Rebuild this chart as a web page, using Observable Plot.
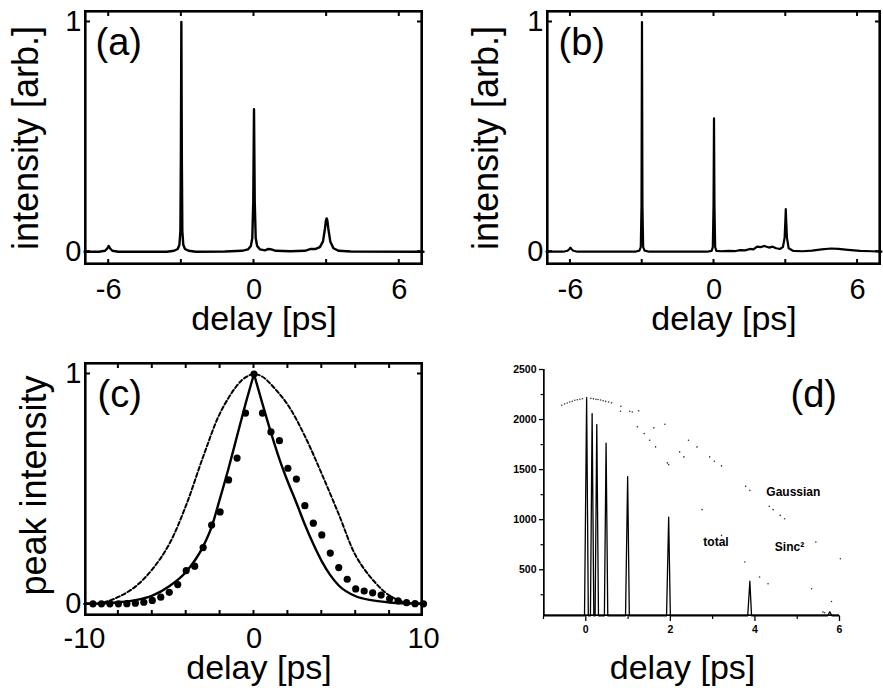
<!DOCTYPE html>
<html><head><meta charset="utf-8">
<script src="https://cdn.jsdelivr.net/npm/d3@7"></script>
<script src="https://cdn.jsdelivr.net/npm/@observablehq/plot@0.6"></script>
<style>
body{margin:0;background:#fff;}
#fig{position:relative;width:883px;height:688px;overflow:hidden;background:#fff;}
</style></head><body><div id="fig"></div>
<script>
// ---------- data ----------
// (a) measured autocorrelation trace: [delay ps, intensity]
const aTicksX = [-6, 0, 6];
const aTicksY = [0, 1];
const aMinorX = [-6, -3, 0, 3, 6];
const aTrace = [
[-7.0,0.0],[-6.4,0.0],[-6.15,0.004],[-6.06,0.014],[-6.0,0.025],[-5.94,0.014],[-5.85,0.004],[-5.6,0.0],
[-3.6,0.0],[-3.3,0.004],[-3.15,0.012],[-3.08,0.03],[-3.04,0.09],[-3.02,0.4],[-3.0,1.0],[-2.98,0.4],[-2.96,0.09],[-2.92,0.03],[-2.85,0.012],[-2.7,0.004],[-2.4,0.0],
[-1.2,0.001],[-0.5,0.004],[-0.25,0.01],[-0.13,0.025],[-0.07,0.06],[-0.03,0.22],[0.0,0.62],[0.03,0.22],[0.07,0.06],[0.13,0.025],[0.25,0.01],[0.45,0.006],[0.6,0.012],[0.72,0.01],[0.9,0.004],[1.5,0.002],
[2.1,0.004],[2.35,0.012],[2.55,0.012],[2.72,0.02],[2.85,0.045],[2.93,0.1],[2.97,0.135],[3.0,0.145],[3.03,0.135],[3.07,0.1],[3.15,0.045],[3.28,0.015],[3.5,0.004],[4.0,0.001],[7.0,0.0]
];
// (b)
const bTrace = [
[-7.0,0.0],[-6.3,0.0],[-6.12,0.004],[-6.04,0.012],[-6.0,0.018],[-5.96,0.012],[-5.88,0.004],[-5.7,0.0],
[-3.3,0.0],[-3.12,0.005],[-3.06,0.02],[-3.03,0.2],[-3.01,1.0],[-2.99,0.2],[-2.96,0.02],[-2.9,0.005],[-2.7,0.0],
[-0.3,0.0],[-0.1,0.004],[-0.05,0.02],[-0.02,0.2],[0.0,0.58],[0.02,0.2],[0.05,0.02],[0.1,0.004],
[0.3,0.002],[0.6,0.004],[0.9,0.003],[1.1,0.007],[1.3,0.006],[1.5,0.012],[1.65,0.01],[1.8,0.022],[1.95,0.02],[2.1,0.025],[2.3,0.018],[2.45,0.022],[2.6,0.015],[2.75,0.012],[2.88,0.02],[2.95,0.06],[2.98,0.13],[3.0,0.185],[3.02,0.13],[3.05,0.06],[3.12,0.015],[3.3,0.004],[3.7,0.002],[4.1,0.005],[4.5,0.01],[4.9,0.014],[5.2,0.012],[5.6,0.008],[6.1,0.004],[6.6,0.002],[7.0,0.0]
];
// (c) peak intensity vs delay
const cTicksX = [-10, 0, 10];
const cTicksY = [0, 1];
const cMinorX = [-8, -6, -4, -2, 0, 2, 4, 6, 8];
const cDashed = [
[-10,0],[-9,0.004],[-8,0.03],[-7,0.075],[-6,0.15],[-5,0.26],[-4,0.43],[-3,0.64],[-2,0.83],[-1,0.95],[-0.5,0.985],[0,1],
[0.5,0.988],[1,0.955],[2,0.865],[3,0.73],[4,0.565],[5,0.39],[6,0.21],[7,0.105],[8,0.036],[9,0.005],[10,0]
];
const cSolidLeft = [
[-10,0],[-9,0.002],[-8,0.007],[-7,0.016],[-6,0.036],[-5,0.077],[-4,0.14],[-3,0.25],[-2.5,0.335],[-2,0.46],[-1.5,0.59],[-1,0.73],[-0.5,0.87],[0,1]
];
const cSolidRight = [
[0,1],[0.5,0.87],[1,0.745],[1.5,0.63],[2,0.53],[2.5,0.44],[3,0.345],[3.5,0.26],[4,0.185],[4.5,0.125],[5,0.08],[6,0.033],[7,0.015],[8,0.006],[9,0.002],[10,0]
];
const cDots = [
[-9.5,0],[-9,0],[-8.5,0],[-8,0],[-7.5,0.001],[-7,0.003],[-6.5,0.007],[-6,0.015],[-5.5,0.029],[-5,0.05],[-4.5,0.084],[-4,0.145],[-3.5,0.164],[-3,0.245],[-2.5,0.343],[-2,0.40],[-1.5,0.539],[-1,0.634],[-0.5,0.83],[0,1],
[0.5,0.83],[1,0.748],[1.5,0.71],[2,0.59],[2.5,0.543],[3,0.427],[3.5,0.351],[4,0.30],[4.5,0.221],[5,0.158],[5.5,0.107],[6,0.065],[6.5,0.056],[7,0.048],[7.5,0.038],[8,0.022],[8.5,0.013],[9,0.005],[9.5,0.001],[10,0]
];
// (d) simulated trace
const dTicksX = [0, 2, 4, 6];
const dMinorX = [-1, 1, 3, 5];
const dTicksY = [500, 1000, 1500, 2000, 2500];
const dMinorY = [250, 750, 1250, 1750, 2250];
const dTotal = [
[-1,40],[-0.03,40],[0.02,2210],[0.06,40],[0.11,40],[0.15,2060],[0.19,40],[0.22,40],[0.26,1950],[0.30,40],[0.44,40],[0.48,1765],[0.52,40],
[0.94,40],[0.99,1430],[1.03,40],[1.91,40],[1.96,1025],[2.0,40],[3.83,40],[3.88,385],[3.92,40],[5.72,40],[5.77,80],[5.82,40],[6,40]
];
const dGaussian = [
[-0.57,2143],[-0.5,2155],[-0.44,2165],[-0.38,2175],[-0.32,2183],[-0.26,2193],[-0.2,2198],[-0.14,2203],[-0.08,2208],[0.02,2220],[0.12,2212],[0.18,2207],[0.24,2203],[0.29,2200],[0.35,2195],[0.41,2188],[0.47,2182],[0.54,2175],[0.61,2167],
[0.83,2133],[1.04,2083],[1.1,2075],[1.25,2087],[1.61,1917],[1.87,1953],[2.43,1793],[2.63,1727],[2.93,1627],[3.04,1583],[3.21,1537],[3.78,1333],[3.88,1293],[4.34,1133],[4.43,1100],[4.60,1043],[4.70,1010],[5.44,777],[6.02,610]
];
const dSinc = [
[0.82,2083],[1.22,1927],[1.38,1860],[1.51,1793],[1.65,1727],[1.93,1567],[1.96,1550],[2.22,1677],[2.32,1627],[2.75,1100],[3.21,843],[3.76,577],[4.11,427],[4.31,360],[5.34,310],[5.81,183],[5.61,77],[5.65,70]
];
const dNotes = [
{label: "Gaussian", x: 4.27, y: 1276},
{label: "total", x: 2.78, y: 776},
{label: "Sinc²", x: 4.47, y: 730}
];

// ---------- drawing ----------
const F = '"Liberation Sans", Arial, Helvetica, sans-serif';
const fig = document.getElementById("fig");
const X = d => d[0], Y = d => d[1];
const blank = () => "";

function place(p, left, top) {
  p.style.position = "absolute";
  p.style.left = left + "px";
  p.style.top = top + "px";
  p.style.fontFamily = F;
  fig.appendChild(p);
}
// filled border bars lying just inside the plotting area (thickness t px), from the scale domains
function borderBars(xd, yd, fw, fh, t, sides) {
  const kx = (xd[1] - xd[0]) * t / fw, ky = (yd[1] - yd[0]) * t / fh;
  const all = {
    bottom: {x1: xd[0], x2: xd[1], y1: yd[0], y2: yd[0] + ky},
    top:    {x1: xd[0], x2: xd[1], y1: yd[1] - ky, y2: yd[1]},
    left:   {x1: xd[0], x2: xd[0] + kx, y1: yd[0], y2: yd[1]},
    right:  {x1: xd[1] - kx, x2: xd[1], y1: yd[0], y2: yd[1]}
  };
  return sides.map(s => all[s]);
}
// short inward tick bars on all four sides (len px long, w px wide)
function innerTickBars(xVals, yVals, xd, yd, fw, fh, len, w) {
  const kyL = (yd[1] - yd[0]) * len / fh, kxL = (xd[1] - xd[0]) * len / fw;
  const kyW = (yd[1] - yd[0]) * w / 2 / fh, kxW = (xd[1] - xd[0]) * w / 2 / fw;
  const out = [];
  xVals.forEach(v => {
    out.push({x1: v - kxW, x2: v + kxW, y1: yd[0], y2: yd[0] + kyL});
    out.push({x1: v - kxW, x2: v + kxW, y1: yd[1] - kyL, y2: yd[1]});
  });
  yVals.forEach(v => {
    out.push({x1: xd[0], x2: xd[0] + kxL, y1: v - kyW, y2: v + kyW});
    out.push({x1: xd[1] - kxL, x2: xd[1], y1: v - kyW, y2: v + kyW});
  });
  return out;
}
const rectCh = {x1: "x1", x2: "x2", y1: "y1", y2: "y2"};

function framed({left, top, width, height, mL, mR, mT, mB, xDomain, yDomain, xTicks, yTicks, minorX, xPad,
                 tag, tagDx, tagDy, yTitle, yDx, yDy, xDx, xDy, marks}) {
  const fw = width - mL - mR, fh = height - mT - mB;
  const p = Plot.plot({
    width, height, marginLeft: mL, marginRight: mR, marginTop: mT, marginBottom: mB,
    x: {domain: xDomain}, y: {domain: yDomain},
    marks: [
      Plot.axisX(xTicks, {tickSize: 0, tickPadding: xPad, label: null, fontSize: 29, tickFormat: d => String(d)}),
      Plot.axisY(yTicks, {tickSize: 0, tickPadding: 3, label: null, fontSize: 29, tickFormat: d => String(d)}),
      Plot.rect(innerTickBars(minorX, yTicks, xDomain, yDomain, fw, fh, 6, 2), {...rectCh, fill: "#000"}),
      ...marks,
      Plot.rect(borderBars(xDomain, yDomain, fw, fh, 2.6, ["bottom", "top", "left", "right"]), {...rectCh, fill: "#000"}),
      Plot.text([tag], {text: d => d, frameAnchor: "top-left", dx: tagDx, dy: tagDy, fontSize: 38, textAnchor: "start", lineAnchor: "middle"}),
      Plot.text(["delay [ps]"], {text: d => d, frameAnchor: "bottom", dx: xDx, dy: xDy, fontSize: 34, textAnchor: "middle", lineAnchor: "middle"}),
      Plot.text([yTitle], {text: d => d, frameAnchor: "left", dx: yDx, dy: yDy, rotate: -90, fontSize: 36, textAnchor: "middle", lineAnchor: "middle"})
    ]
  });
  place(p, left, top);
}

// (a)
framed({left: 0, top: 0, width: 441, height: 340, mL: 84, mR: 18, mT: 10, mB: 75,
  xDomain: [-7, 7], yDomain: [-0.06, 1.05], xTicks: aTicksX, yTicks: aTicksY, minorX: aMinorX, xPad: 13,
  tag: "(a)", tagDx: 11, tagDy: 32, yTitle: "intensity [arb.]", yDx: -58, yDy: 0, xDx: 10, xDy: 54,
  marks: [Plot.line(aTrace, {x: X, y: Y, stroke: "#000", strokeWidth: 2.4})]});

// (b)
framed({left: 441, top: 0, width: 442, height: 340, mL: 105, mR: 2, mT: 10, mB: 75,
  xDomain: [-7, 7], yDomain: [-0.06, 1.05], xTicks: aTicksX, yTicks: aTicksY, minorX: aMinorX, xPad: 13,
  tag: "(b)", tagDx: 12, tagDy: 32, yTitle: "intensity [arb.]", yDx: -60, yDy: 0, xDx: 10, xDy: 54,
  marks: [Plot.line(bTrace, {x: X, y: Y, stroke: "#000", strokeWidth: 2.2})]});

// (c)
framed({left: 0, top: 340, width: 441, height: 348, mL: 84, mR: 18, mT: 22, mB: 72,
  xDomain: [-10, 10], yDomain: [-0.055, 1.05], xTicks: cTicksX, yTicks: cTicksY, minorX: cMinorX, xPad: 11,
  tag: "(c)", tagDx: 13, tagDy: 32, yTitle: "peak intensity", yDx: -50, yDy: -4, xDx: 5, xDy: 52,
  marks: [
    Plot.line(cDashed, {x: X, y: Y, stroke: "#000", strokeWidth: 2, strokeDasharray: "4,2.5", curve: "catmull-rom"}),
    Plot.line(cSolidLeft, {x: X, y: Y, stroke: "#000", strokeWidth: 2.4, curve: "monotone-x"}),
    Plot.line(cSolidRight, {x: X, y: Y, stroke: "#000", strokeWidth: 2.4, curve: "monotone-x"}),
    Plot.dot(cDots, {x: X, y: Y, r: 3.6, fill: "#000"})
  ]});

// (d)
{
  const xd = [-1, 6], yd = [33, 2500];
  const fw = 442 - 102 - 44, fh = 348 - 29 - 72;
  const p = Plot.plot({
    width: 442, height: 348, marginLeft: 102, marginRight: 44, marginTop: 29, marginBottom: 72,
    x: {domain: xd}, y: {domain: yd},
    marks: [
      Plot.axisY(dTicksY, {tickSize: 4, tickPadding: 3, label: null, fontSize: 10.5, fontWeight: "bold", strokeWidth: 1.3, tickFormat: d => String(d)}),
      Plot.axisY(dMinorY, {tickSize: 2.5, tickPadding: 3, label: null, tickFormat: blank, strokeWidth: 1.2}),
      Plot.axisX(dTicksX, {tickSize: 5, tickPadding: 4, label: null, fontSize: 10.5, fontWeight: "bold", strokeWidth: 1.3, tickFormat: d => String(d)}),
      Plot.axisX(dMinorX, {tickSize: 3, tickPadding: 4, label: null, tickFormat: blank, strokeWidth: 1.2}),
      Plot.rect(borderBars(xd, yd, fw, fh, 1.7, ["bottom", "left"]), {...rectCh, fill: "#000"}),
      Plot.dot(dGaussian, {x: X, y: Y, r: 0.8, fill: "#333"}),
      Plot.dot(dSinc, {x: X, y: Y, r: 0.8, fill: "#333"}),
      Plot.line(dTotal, {x: X, y: Y, stroke: "#000", strokeWidth: 1.3}),
      Plot.text(dNotes, {x: "x", y: "y", text: "label", textAnchor: "start", lineAnchor: "middle", fontSize: 12, fontWeight: "bold"}),
      Plot.text(["(d)"], {text: d => d, frameAnchor: "top-left", dx: 247, dy: 25, fontSize: 38, textAnchor: "start", lineAnchor: "middle"}),
      Plot.text(["delay [ps]"], {text: d => d, frameAnchor: "bottom", dx: -9, dy: 52, fontSize: 34, textAnchor: "middle", lineAnchor: "middle"})
    ]
  });
  place(p, 441, 340);
}
</script></body></html>
